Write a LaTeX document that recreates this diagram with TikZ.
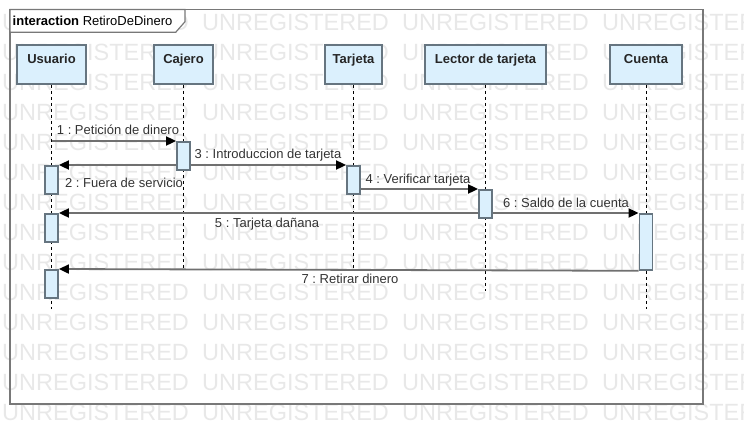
\documentclass[tikz,border=0pt]{standalone}
\usepackage{fontspec}
\setmainfont{Liberation Sans}
\usetikzlibrary{arrows.meta}
\definecolor{wm}{RGB}{232,232,232}
\definecolor{boxfill}{RGB}{219,240,253}
\definecolor{boxline}{RGB}{102,117,128}
\definecolor{frameline}{RGB}{120,120,120}
\definecolor{msgline}{RGB}{112,112,112}
\definecolor{labeltext}{RGB}{51,51,51}
\frenchspacing
\begin{document}
\begin{tikzpicture}[x=1pt,y=-1pt,
  lifebox/.style={draw=boxline, line width=1.8pt, fill=boxfill, inner xsep=0pt, inner ysep=4pt, anchor=north, text height=14.3pt, text depth=16.7pt, font=\fontsize{13}{15}\selectfont\bfseries, text=black!85},
  actbar/.style={draw=boxline, line width=1.8pt, fill=boxfill, minimum width=13pt, minimum height=28pt, inner sep=0pt, anchor=north},
  lifeline/.style={dash pattern=on 3pt off 3pt, line width=1pt, black},
  msg/.style={draw=msgline, line width=1.8pt, -{Triangle[length=10pt,width=9pt,color=black]}},
  msglabel/.style={font=\fontsize{13}{15}\selectfont, text=labeltext, anchor=base, inner sep=0pt},
  wmtext/.style={font=\fontsize{23.5}{25}\selectfont, text=wm, anchor=base west, inner sep=0pt},
  framebox/.style={draw=frameline, line width=1.8pt},
  titletab/.style={draw=frameline, line width=1.2pt, fill=white},
]
\useasboundingbox (0,0) rectangle (744,445);
% watermark
\begin{scope}
\clip (0,0) rectangle (744,445);
\foreach \r in {0,...,13} {
  \foreach \c in {0,...,3} {
    \node[wmtext] (wm-\r-\c) at ({2+200*\c},{30.8+30*\r}) {UNREGISTERED};
  }
}
\end{scope}
% frame
\draw[framebox] (10,9.5) rectangle (703,404);
\draw[titletab] (10,9.5) -- (185,9.5) -- (185,21.7) -- (175.7,32.3) -- (10,32.3) -- cycle;
\node[anchor=base west, inner sep=0pt, font=\fontsize{13}{15}\selectfont] (title) at (12.5,25.3) {\textbf{interaction} RetiroDeDinero};
% lifeline heads
\node[lifebox, minimum width=69pt] (usuario) at (51.5,44) {Usuario};
\node[lifebox, minimum width=59pt] (cajero) at (183.5,44) {Cajero};
\node[lifebox, minimum width=57pt] (tarjeta) at (353.5,44) {Tarjeta};
\node[lifebox, minimum width=121pt] (lector) at (485.5,44) {Lector de tarjeta};
\node[lifebox, minimum width=72pt] (cuenta) at (646,44) {Cuenta};
% lifeline ends
\coordinate (uEnd) at (51.5,309);
\coordinate (cEnd) at (183.5,268);
\coordinate (tEnd) at (353.5,268);
\coordinate (lEnd) at (485.5,291);
\coordinate (cuEnd) at (646,309);
\draw[lifeline] (usuario.south) -- (uEnd);
\draw[lifeline] (cajero.south) -- (cEnd);
\draw[lifeline] (tarjeta.south) -- (tEnd);
\draw[lifeline] (lector.south) -- (lEnd);
\draw[lifeline] (cuenta.south) -- (cuEnd);
% activation bars
\node[actbar] (cbar) at (183.5,141) {};
\node[actbar] (ubar1) at (51.5,165) {};
\node[actbar] (tbar) at (353.5,165) {};
\node[actbar] (lbar) at (485.5,189) {};
\node[actbar] (ubar2) at (51.5,213) {};
\node[actbar, minimum height=56pt] (cubar) at (646,213) {};
\node[actbar] (ubar3) at (51.5,269) {};
% messages
\draw[msg] (usuario.south |- cbar.north) -- (cbar.north west);
\draw[msg] (cbar.west |- ubar1.north) -- (ubar1.north east);
\draw[msg] (cbar.east |- tbar.north) -- (tbar.north west);
\draw[msg] (tbar.east |- lbar.north) -- (lbar.north west);
\draw[msg] (lbar.west |- ubar2.north) -- (ubar2.north east);
\draw[msg] (lbar.east |- cubar.north) -- (cubar.north west);
\draw[msg] (cubar.south west) -- (ubar3.north east);
% labels
\node[msglabel] (l1) at (118,134.5) {1 : Petición de dinero};
\node[msglabel] (l2) at (124,187) {2 : Fuera de servicio};
\node[msglabel] (l3) at (268,158.5) {3 : Introduccion de tarjeta};
\node[msglabel] (l4) at (418,183) {4 : Verificar tarjeta};
\node[msglabel] (l5) at (267,227) {5 : Tarjeta dañana};
\node[msglabel] (l6) at (566,207) {6 : Saldo de la cuenta};
\node[msglabel] (l7) at (350,283) {7 : Retirar dinero};
\end{tikzpicture}
\end{document}
